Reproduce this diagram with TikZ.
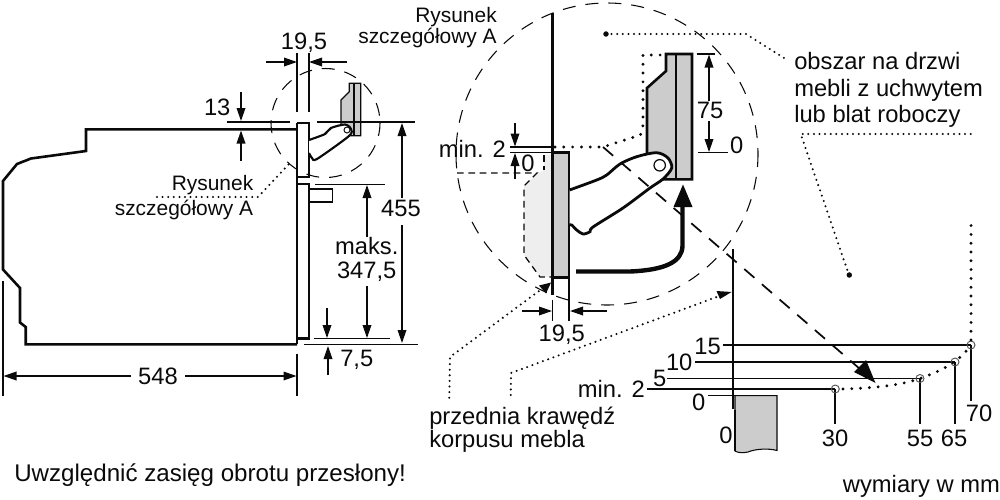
\documentclass[tikz,border=0pt]{standalone}
\usepackage{fontspec}
\setmainfont{Liberation Sans}
\usetikzlibrary{arrows.meta}
\definecolor{panelgray}{HTML}{CCCCCC}
\definecolor{lightgray2}{HTML}{EEEEEE}
\definecolor{ink}{HTML}{0A0A0A}
\tikzset{
  txt/.style={font=\fontsize{17.8}{20}\selectfont,inner sep=0pt,text=ink},
  lbl/.style={txt,anchor=base},
  lblw/.style={txt,anchor=base west},
  lble/.style={txt,anchor=base east},
  smalltxt/.style={font=\fontsize{15.7}{18}\selectfont},
  thinl/.style={draw=ink,line width=0.95pt},
  dimarrow/.style={draw=ink,line width=0.95pt,-{Triangle[length=9.75pt,width=6.5pt]}},
  outline/.style={draw=ink,line width=1.95pt,line join=miter},
  dashcircle/.style={draw=ink,line width=0.8pt,dash pattern=on 9.75pt off 7.5pt},
  dashbold/.style={draw=ink,line width=1.3pt,dash pattern=on 10pt off 7.5pt},
  dashfine/.style={draw=ink,line width=0.95pt,dash pattern=on 5pt off 3.5pt},
  dotfine/.style={draw=ink,line width=1.7pt,line cap=round,dash pattern=on 0pt off 4.2pt},
  dotbold/.style={draw=ink,line width=2.4pt,line cap=round,dash pattern=on 0pt off 6.6pt},
  markc/.style={draw=ink!70,line width=0.7pt},
}
\begin{document}
\begin{tikzpicture}[x=0.75pt,y=-0.75pt]
\useasboundingbox (0,0) rectangle (1000,500);

% ---------- left view: oven body
\draw[outline] (297,129.3) -- (86,129.3) -- (86,151) -- (31,158.5) -- (17,164) -- (3,181) -- (3,269.5) -- (20,288) -- (20,322.5) -- (25.7,327) -- (25.7,344.3) -- (297,344.3);
\draw[thinl] (297,123) -- (297,344.3);
\draw[outline] (297,123) -- (309,123) -- (309,177) -- (297,177);
\draw[outline] (297,184) -- (309,184) -- (309,338.7) -- (297,338.7);
\draw[draw=ink,line width=0.9pt] (309,189) -- (332.5,189) -- (332.5,202) -- (309,202);

% small bracket and hinge
\draw[fill=panelgray,draw=ink,line width=1pt] (349.3,83.3) -- (360.7,83.3) -- (360.7,135.7) -- (341,135.7) -- (341,100) -- (349.3,91.7) -- cycle;
\draw[draw=ink,line width=0.8pt] (354,83.3) -- (354,135.7);
\draw[fill=white,draw=ink,line width=1.6pt] plot[smooth,tension=.45] coordinates {(309,140) (325,134) (331,128) (345,124.5) (351,129) (349,136) (317,159) (312,158) (309,153)};
\draw[draw=ink,line width=0.7pt,fill=white] (347,130) circle[radius=3];

% small dashed circle
\draw[dashcircle] (325.5,123) circle[radius=54.5];

% left dimension lines
\draw[thinl] (297,53) -- (297,112);
\draw[thinl] (309,53) -- (309,112);
\draw[dimarrow] (266,62) -- (297,62);
\draw[dimarrow] (347,62) -- (309,62);
\node[lbl] (d195a) at (304,49.3) {19,5};
\draw[thinl] (227,122) -- (290,122);
\draw[thinl] (317,122) -- (415,122);
\draw[dimarrow] (241,92) -- (241,121);
\draw[dimarrow] (241,161) -- (241,130.5);
\node[lble] (d13) at (230.7,115) {13};
\draw[dimarrow] (402,198) -- (402,123);
\draw[dimarrow] (402,225) -- (402,343);
\node[lbl] (d455) at (401,216.7) {455};
\draw[thinl] (304,344.7) -- (418,344.7);
\draw[thinl] (315,184.3) -- (385,184.3);
\draw[dimarrow] (367,236.7) -- (367,185);
\draw[dimarrow] (367,286) -- (367,338);
\node[lbl] (dmaks) at (366.7,254) {maks.};
\node[lbl] (d347) at (366.7,278.3) {347,5};
\draw[thinl] (314,338.7) -- (390,338.7);
\draw[dimarrow] (327,308) -- (327,338);
\draw[dimarrow] (328,375) -- (328,346);
\node[lblw] (d75) at (340,366.7) {7,5};
\draw[thinl] (3,281) -- (3,396);
\draw[thinl] (297,354) -- (297,396);
\draw[dimarrow] (131,376) -- (3.5,376);
\draw[dimarrow] (185,376) -- (296.5,376);
\node[lbl] (d548) at (158,384) {548};
\node[lble,smalltxt] (ry1) at (253.5,190.7) {Rysunek};
\node[lble,smalltxt] (ry2) at (253.5,215) {szczegółowy A};
\draw[dotfine] (157,197) -- (258,197) -- (290,163);

% ---------- detail A
\fill[lightgray2] (537,174) -- (524,186) -- (524,255) -- (540,277) -- (552,277) -- (552,155) -- (544,155) -- (544,170) -- cycle;
\draw[dashfine] (457,173) -- (537,173) -- (524,186) -- (524,255) -- (540,277) -- (552,277);
\draw[dashfine] (544,155) -- (544,170);

\draw[dashcircle] (607,154) circle[radius=151];

% bracket
\draw[fill=panelgray,outline] (666,54) -- (692,54) -- (692,179.3) -- (647,179.3) -- (647,88) -- (666,71) -- cycle;
\draw[draw=ink,line width=1.1pt] (676,54) -- (676,179.3);
% door panel
\draw[fill=panelgray,outline] (552.3,152.7) -- (569,152.7) -- (569,277.3) -- (552.3,277.3) -- cycle;
\draw[outline] (552.3,12.5) -- (552.3,295);

% hinge
\draw[fill=white,draw=ink,line width=2.1pt] plot[smooth,tension=.5] coordinates {(569.5,190) (596.7,180) (606.7,175) (620,164) (636.7,156.7) (656.7,152.7) (668,158) (671.7,168) (663,179) (650,188) (623,208) (593,227) (590,231.7) (583,234) (576.7,230) (571.7,225) (569.5,225)};
\draw[draw=ink,line width=0.9pt,fill=white] (659.7,165.3) circle[radius=5.7];

% thick curved arrow
\draw[draw=ink,line width=3.3pt] (576,271.5) -- (630,271.5) .. controls (665,270) and (682,262) .. (682.5,246) -- (682.5,205);
\fill[ink] (683,184.5) -- (692.5,207) -- (673.5,207) -- cycle;

% long dashed pointer
\draw[dashbold] (603,147) -- (860,369);
\fill[ink] (875.5,383) -- (854,372) -- (866,360) -- cycle;

% dotted region outline
\draw[dotbold] (555,147) -- (603,147) -- (640.5,135) -- (643,125) -- (643,55) -- (664,55);
\draw[ink,fill=ink] (606,34) circle[radius=2.4];
\draw[dotfine] (606,34) -- (746,34) -- (786,59.3);
\node[lblw] (ob1) at (794,69.3) {obszar na drzwi};
\node[lblw] (ob2) at (794,96) {mebli z uchwytem};
\node[lblw] (ob3) at (794,122.7) {lub blat roboczy};
\draw[dotfine] (970.7,134) -- (800.7,134) -- (849,275);
\draw[ink,fill=ink] (849.3,275) circle[radius=2.4];

% detail dimensions
\node[lble,smalltxt] (rz1) at (497,22.7) {Rysunek};
\node[lble,smalltxt] (rz2) at (497,43.3) {szczegółowy A};
\draw[thinl] (696.7,54) -- (715,54);
\draw[thinl] (698,152.3) -- (727.7,152.3);
\draw[dimarrow] (709,101) -- (709,54.5);
\draw[dimarrow] (709,121) -- (709,152);
\node[lbl] (d75b) at (710,118.3) {75};
\node[lbl] (d0a) at (736.7,153.3) {0};
\draw[thinl] (510,147) -- (552,147);
\draw[thinl] (510,152.5) -- (552,152.5);
\node[lble] (dmin) at (506,157.3) {min. 2};
\draw[dimarrow] (515,123) -- (515,146.5);
\draw[dimarrow] (515,179) -- (515,153);
\node[lbl] (d0b) at (528,171.7) {0};
\draw[thinl] (552.5,300) -- (552.5,321);
\draw[thinl] (569,279) -- (569,321);
\draw[dimarrow] (522,311) -- (552,311);
\draw[dimarrow] (607,311) -- (570,311);
\node[lbl] (d195b) at (561.7,341) {19,5};

% leaders
\draw[dotfine] (449.3,397.7) -- (450,357) -- (543,288);
\fill[ink] (551,282.5) -- (546,293.5) -- (539,285.5) -- cycle;
\draw[dotfine] (510.7,395) -- (511,373) -- (722,295);
\fill[ink] (731.5,292) -- (720,299) -- (716.5,291) -- cycle;
\node[lblw] (pk1) at (429,424.3) {przednia krawędź};
\node[lblw] (pk2) at (429,447.7) {korpusu mebla};

% ---------- lower right detail
\draw[fill=panelgray,draw=ink,line width=0.8pt] (735,451) -- (735,395.7) -- (777,395.7) -- (777,450.5) .. controls (768,448) and (755,449) .. (748,452) .. controls (743,453) and (738,453) .. (735,451) -- cycle;
\draw[outline] (733,249) -- (733,409);
\draw[outline,line width=1.2pt] (735,410) -- (735,451);
\draw[thinl] (723,345) -- (971,345);
\draw[thinl] (695,362) -- (955,362);
\draw[thinl] (667,378.3) -- (920,378.3);
\draw[thinl] (647,389) -- (835,389);
\draw[thinl] (708,395.7) -- (735,395.7);
\draw[thinl] (835,389) -- (835,424);
\draw[thinl] (920,378.3) -- (920,424);
\draw[thinl] (955,362) -- (955,424);
\draw[thinl] (971,345) -- (971,401);
\draw[markc] (835.3,389) circle[radius=4];
\draw[markc] (920,378.5) circle[radius=4];
\draw[markc] (955,362) circle[radius=4];
\draw[markc] (971,345) circle[radius=4];
\draw[dotbold,line width=1.8pt,dash pattern=on 0pt off 6pt] (738,389) -- (831,389);
\draw[dotbold] (843,389) .. controls (880,388) and (905,384) .. (920,378.5) .. controls (935,373) and (955,365) .. (967,350);
\draw[dotbold] (971,340) -- (971,223);
\node[lble] (l15) at (721,354) {15};
\node[lble] (l10) at (692.7,370) {10};
\node[lble] (l5) at (666.7,386.7) {5};
\node[lble] (lmin) at (645,397.3) {min. 2};
\node[lbl] (l0a) at (698.7,410.7) {0};
\node[lbl] (l0b) at (726,443.3) {0};
\node[lbl] (l30) at (835,446.7) {30};
\node[lbl] (l55) at (920,446.7) {55};
\node[lbl] (l65) at (954,446.7) {65};
\node[lbl] (l70) at (979,421.7) {70};
\node[lblw,font=\fontsize{18.1}{20}\selectfont] (uw) at (14,481.5) {Uwzględnić zasięg obrotu przesłony!};
\node[lblw] (wy) at (842.7,492.7) {wymiary w mm};
\end{tikzpicture}
\end{document}
